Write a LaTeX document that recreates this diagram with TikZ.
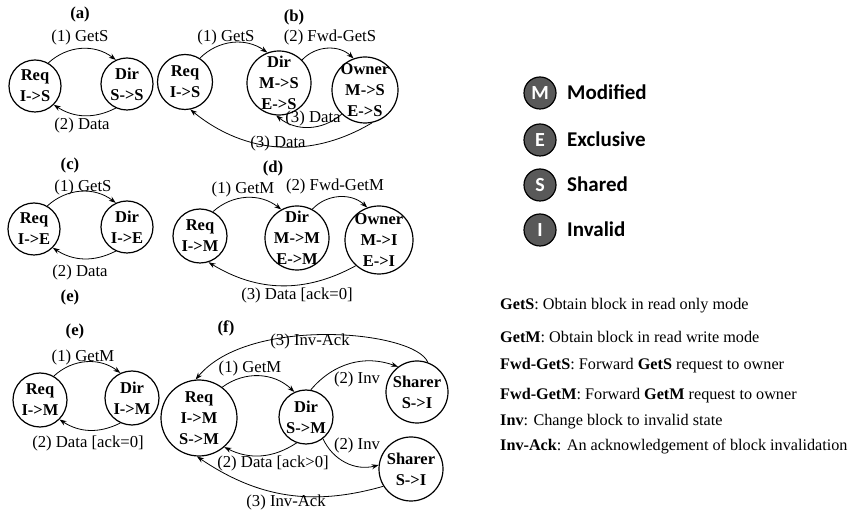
\documentclass[tikz,border=0pt]{standalone}
\usepackage{fontspec}
\setmainfont{Liberation Serif}
\newfontfamily\calib{Carlito}
\usetikzlibrary{arrows.meta}
\begin{document}
\begin{tikzpicture}[x=1pt,y=-1pt,
  st/.style={circle,draw,line width=1.2pt,inner sep=0pt},
  stt/.style={inner sep=0pt,align=center,font=\fontsize{16.5}{21}\selectfont\bfseries},
  lbl/.style={inner sep=0pt,anchor=base,font=\fontsize{16.7}{20}\selectfont},
  ttl/.style={inner sep=0pt,anchor=base,font=\fontsize{16.7}{20}\selectfont\bfseries},
  arr/.style={-{Stealth[length=7pt,width=5pt]},line width=0.8pt},
  defn/.style={inner sep=0pt,anchor=base west,font=\fontsize{16.2}{20}\selectfont},
  leg/.style={circle,draw,line width=1.2pt,fill=black!65,minimum size=32pt,inner sep=0pt,text=white,font=\calib\bfseries\fontsize{20}{20}\selectfont},
  legl/.style={inner sep=0pt,anchor=base west,font=\calib\bfseries\fontsize{21}{21}\selectfont}]
\useasboundingbox (0,0) rectangle (860,510);

% (a)
\node[ttl] (ta) at (80,19) {(a)};
\node[st,minimum size=52pt,label={[stt]center:{Req\\I->S}}] (a1) at (35,86) {};
\node[st,minimum size=52pt,label={[stt]center:{Dir\\S->S}}] (a2) at (127,84) {};
\draw[arr] (a1.60) to[bend left=40] (a2.115);
\draw[arr] (a2.-115) to[bend left=30] (a1.-45);
\node[lbl] (la1) at (80,42) {(1) GetS};
\node[lbl] (la2) at (82,130) {(2) Data};

% (b)
\node[ttl] (tb) at (294,22) {(b)};
\node[st,minimum size=55pt,label={[stt]center:{Req\\I->S}}] (b1) at (185,82) {};
\node[st,minimum size=64pt,label={[stt]center:{Dir\\M->S\\E->S}}] (b2) at (279,83) {};
\node[st,minimum size=66pt,label={[stt]center:{Owner\\M->S\\E->S}}] (b3) at (365,90) {};
\draw[arr] (b1.58) to[bend left=40] (b2.111);
\draw[arr] (b2.45) to[bend left=45] (b3.110);
\draw[arr] (b3.-134) to[bend left=40] (b2.-95);
\draw[arr] (b3.-78) to[bend left=35] (b1.-79);
\node[lbl] (lb1) at (226,42) {(1) GetS};
\node[lbl] (lb2) at (330,42) {(2) Fwd-GetS};
\node[lbl] (lb3) at (313,123) {(3) Data};
\node[lbl] (lb4) at (278,148) {(3) Data};

% (c)
\node[ttl] (tc) at (70,170) {(c)};
\node[st,minimum size=52pt,label={[stt]center:{Req\\I->E}}] (c1) at (34,229) {};
\node[st,minimum size=52pt,label={[stt]center:{Dir\\I->E}}] (c2) at (127,227) {};
\draw[arr] (c1.60) to[bend left=40] (c2.115);
\draw[arr] (c2.-115) to[bend left=30] (c1.-45);
\node[lbl] (lc1) at (83,192) {(1) GetS};
\node[lbl] (lc2) at (80,277) {(2) Data};
\node[ttl] (tex) at (70,302) {(e)};

% (d)
\node[ttl] (td) at (273,173) {(d)};
\node[st,minimum size=54pt,label={[stt]center:{Req\\I->M}}] (d1) at (200,236) {};
\node[st,minimum size=64pt,label={[stt]center:{Dir\\M->M\\E->M}}] (d2) at (297,238) {};
\node[st,minimum size=68pt,label={[stt]center:{Owner\\M->I\\E->I}}] (d3) at (379,240) {};
\draw[arr] (d1.62) to[bend left=40] (d2.119);
\draw[arr] (d2.62) to[bend left=45] (d3.110);
\draw[arr] (d3.-132) to[bend left=30] (d1.-72);
\node[lbl] (ld1) at (243,194) {(1) GetM};
\node[lbl] (ld2) at (335,191) {(2) Fwd-GetM};
\node[lbl] (ld3) at (297,300) {(3) Data [ack=0]};

% (e)
\node[ttl] (te) at (75,336) {(e)};
\node[st,minimum size=54pt,label={[stt]center:{Req\\I->M}}] (e1) at (40,400) {};
\node[st,minimum size=54pt,label={[stt]center:{Dir\\I->M}}] (e2) at (132,398) {};
\draw[arr] (e1.60) to[bend left=40] (e2.115);
\draw[arr] (e2.-115) to[bend left=30] (e1.-45);
\node[lbl] (le1) at (83,362) {(1) GetM};
\node[lbl] (le2) at (88,448) {(2) Data [ack=0]};

% (f)
\node[ttl] (tf) at (226,333) {(f)};
\node[st,minimum size=76pt,label={[stt]center:{Req\\I->M\\S->M}}] (f1) at (199,418) {};
\node[st,minimum size=54pt,label={[stt]center:{Dir\\S->M}}] (f2) at (306,417) {};
\node[st,minimum size=62pt,label={[stt]center:{Sharer\\S->I}}] (f3) at (417,392) {};
\node[st,minimum size=64pt,label={[stt]center:{Sharer\\S->I}}] (f4) at (411,469) {};
\draw[arr] (f3.70) .. controls +(-13,-32) and +(53,-64) .. (f1.95);
\draw[arr] (f1.53) to[bend left=40] (f2.115);
\draw[arr] (f2.80) to[bend left=35] (f3.127);
\draw[arr] (f2.-52) to[bend right=40] (f4.173);
\draw[arr] (f2.-110) to[bend left=30] (f1.-49);
\draw[arr] (f4.-148) to[bend left=25] (f1.-93);
\node[lbl] (lf1) at (310,346) {(3) Inv-Ack};
\node[lbl] (lf2) at (250,373) {(1) GetM};
\node[lbl] (lf3) at (357,384) {(2) Inv};
\node[lbl] (lf4) at (357,450) {(2) Inv};
\node[lbl] (lf5) at (273,468) {(2) Data [ack>0]};
\node[lbl] (lf6) at (286,507) {(3) Inv-Ack};

% legend
\node[leg] (gm) at (540,93) {M};
\node[leg] (ge) at (540,140) {E};
\node[leg] (gs) at (540,185) {S};
\node[leg] (gi) at (540,230) {I};
\node[legl] (tm) at (567,100) {Modified};
\node[legl] (tE) at (567,147) {Exclusive};
\node[legl] (tS) at (567,192) {Shared};
\node[legl] (tI) at (567,237) {Invalid};

% definitions
\node[defn] (x1) at (500,310) {\textbf{GetS}: Obtain block in read only mode};
\node[defn] (x2) at (500,343) {\textbf{GetM}: Obtain block in read write mode};
\node[defn] (x3) at (500,370) {\textbf{Fwd-GetS}: Forward \textbf{GetS} request to owner};
\node[defn] (x4) at (500,400) {\textbf{Fwd-GetM}: Forward \textbf{GetM} request to owner};
\node[defn] (x5) at (500,426) {\textbf{Inv}: Change block to invalid state};
\node[defn] (x6) at (500,451) {\textbf{Inv-Ack}: An acknowledgement of block invalidation};
\end{tikzpicture}
\end{document}
